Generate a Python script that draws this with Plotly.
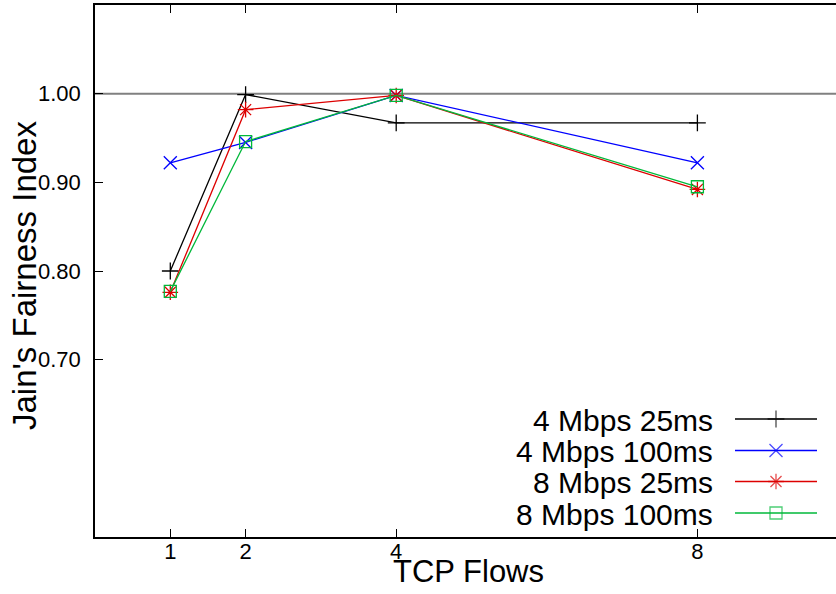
import plotly.graph_objects as go

# ---- data ----
flows = [1, 2, 4, 8]
series_names = ["4 Mbps 25ms", "4 Mbps 100ms", "8 Mbps 25ms", "8 Mbps 100ms"]
s_4m_25 = [0.800, 0.999, 0.967, 0.967]
s_4m_100 = [0.922, 0.945, 0.998, 0.922]
s_8m_25 = [0.776, 0.982, 0.998, 0.892]
s_8m_100 = [0.777, 0.946, 0.998, 0.895]
series_values = [s_4m_25, s_4m_100, s_8m_25, s_8m_100]
y_tickvals = [0.70, 0.80, 0.90, 1.00]
y_ticktext = ["0.70", "0.80", "0.90", "1.00"]
x_tickvals = [1, 2, 4, 8]
x_ticktext = ["1", "2", "4", "8"]

# ---- styles ----
colors = ["#000000", "#0000ff", "#dd0000", "#00b83a"]
symbols = ["cross-thin", "x-thin", "asterisk", "square-open"]
msizes = [12, 13, 13, 12]

W, H = 836, 594
ML, MR, MT, MB = 95, 0, 5, 57
PW, PH = W - ML - MR, H - MT - MB
FONT = "Liberation Sans, Arial, sans-serif"

def px_x(p):
    return (p - ML) / PW

def px_y(p):
    return (H - MB - p) / PH

fig = go.Figure()
for name, vals, c, s, ms in zip(series_names, series_values, colors, symbols, msizes):
    fig.add_trace(go.Scatter(
        x=flows, y=vals, mode="lines+markers", name=name,
        line=dict(color=c, width=1.3),
        marker=dict(symbol=s, size=ms, color=c, line=dict(color=c, width=1.3)),
        showlegend=False, cliponaxis=False,
    ))

# custom gnuplot-style legend (text right, sample on the right)
leg_text_x = 715
leg_line_x0, leg_line_x1 = 735, 817
leg_rows = [419, 450.5, 481.5, 513]
for name, c, s, ms, ry in zip(series_names, colors, symbols, msizes, leg_rows):
    fig.add_annotation(xref="paper", yref="paper", x=px_x(leg_text_x), y=px_y(ry + 1),
                       text=name, showarrow=False, xanchor="right", yanchor="middle",
                       font=dict(family=FONT, size=30, color="#000000"))
    fig.add_trace(go.Scatter(
        x=[px_x(leg_line_x0), px_x((leg_line_x0 + leg_line_x1) / 2), px_x(leg_line_x1)],
        y=[px_y(ry)] * 3, xaxis="x2", yaxis="y2", mode="lines+markers",
        line=dict(color=c, width=1.3),
        marker=dict(symbol=s, size=[0, ms, 0], color=c, line=dict(color=c, width=1.3)),
        showlegend=False, hoverinfo="skip", cliponaxis=False,
    ))

fig.add_shape(type="line", xref="paper", x0=0, x1=1, yref="y", y0=1.0, y1=1.0,
              line=dict(color="#808080", width=2), layer="below")

fig.update_layout(
    width=W, height=H,
    margin=dict(l=ML, r=MR, t=MT, b=MB, pad=0),
    paper_bgcolor="white", plot_bgcolor="white",
    font=dict(family=FONT, color="#000000"),
    showlegend=False,
    xaxis=dict(range=[0, PW / 75.3], tickvals=x_tickvals, ticktext=x_ticktext,
               ticks="inside", ticklen=8, tickwidth=1.2, tickcolor="#000000",
               showline=True, linecolor="#000000", linewidth=1.5, mirror="ticks",
               showgrid=False, zeroline=False, tickfont=dict(size=22, family=FONT),
               ticklabelstandoff=-6),
    yaxis=dict(range=[0.5, 1.1], tickvals=y_tickvals, ticktext=y_ticktext,
               ticks="inside", ticklen=8, tickwidth=1.2, tickcolor="#000000",
               showline=True, linecolor="#000000", linewidth=1.5, mirror=False,
               showgrid=False, zeroline=False, tickfont=dict(size=22, family=FONT),
               ticklabelstandoff=8),
    xaxis2=dict(range=[0, 1], overlaying="x", visible=False, fixedrange=True),
    yaxis2=dict(range=[0, 1], overlaying="y", visible=False, fixedrange=True),
)

fig.add_annotation(xref="paper", yref="paper", x=px_x(468), y=px_y(571),
                   text="TCP Flows", showarrow=False, xanchor="center", yanchor="middle",
                   font=dict(family=FONT, size=31, color="#000000"))
fig.add_annotation(xref="paper", yref="paper", x=px_x(24), y=px_y(276),
                   text="Jain's Fairness Index", showarrow=False, textangle=-90,
                   xanchor="center", yanchor="middle",
                   font=dict(family=FONT, size=33, color="#000000"))

fig.write_html("out.html")
